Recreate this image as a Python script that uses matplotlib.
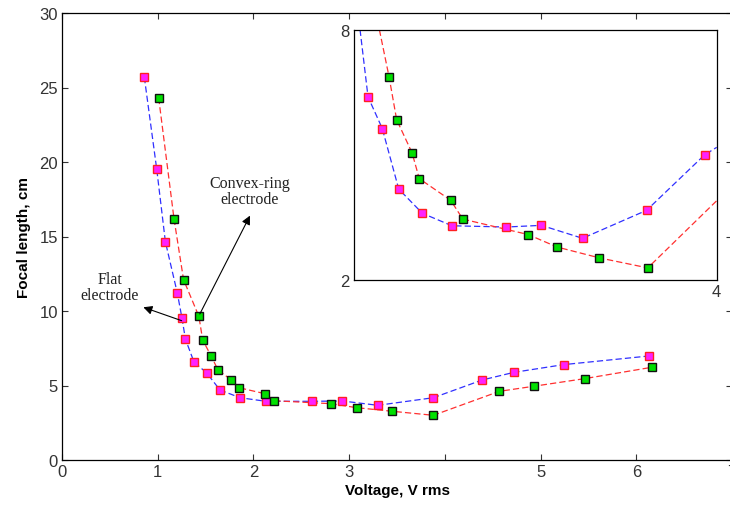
import matplotlib

matplotlib.use("Agg")
import matplotlib.pyplot as plt

# flat electrode: magenta squares, blue dashed line
flat_v = [0.86, 0.99, 1.08, 1.205, 1.254, 1.29, 1.38, 1.51, 1.65, 1.86,
          2.13, 2.61, 2.93, 3.30, 3.88, 4.39, 4.72, 5.24, 6.13]
flat_f = [25.7, 19.5, 14.65, 11.2, 9.5, 8.1, 6.56, 5.86, 4.7, 4.18,
          3.94, 3.94, 3.96, 3.67, 4.18, 5.37, 5.88, 6.40, 6.98]

# convex-ring electrode: green squares, red dashed line
ring_v = [1.01, 1.17, 1.27, 1.43, 1.47, 1.56, 1.63, 1.77, 1.85, 2.12,
          2.21, 2.81, 3.08, 3.45, 3.88, 4.57, 4.93, 5.46, 6.16]
ring_f = [24.3, 16.2, 12.1, 9.64, 8.05, 6.96, 6.04, 5.37, 4.85, 4.45,
          3.98, 3.78, 3.51, 3.27, 3.0, 4.61, 4.95, 5.46, 6.22]

# inset data (line runs past the first/last marker to the frame)
in_flat_v = [1.116, 1.234, 1.37, 1.565, 1.81, 2.26, 2.55, 2.89, 3.42, 3.90]
in_flat_f = [6.39, 5.63, 4.18, 3.60, 3.30, 3.27, 3.31, 3.00, 3.67, 5.00]
in_flat_ends_v = [1.05, 4.0]
in_flat_ends_f = [8.0, 5.18]
in_ring_v = [1.29, 1.353, 1.48, 1.54, 1.80, 1.90, 2.44, 2.68, 3.03, 3.43]
in_ring_f = [6.87, 5.84, 5.05, 4.43, 3.91, 3.46, 3.09, 2.79, 2.53, 2.29]
in_ring_ends_v = [1.21, 4.0]
in_ring_ends_f = [8.0, 3.90]

x_ticks = [0, 1, 2, 3, 4, 5, 6, 7]
x_labels = ["0", "1", "2", "3", "", "5", "6", "7"]
y_ticks = [0, 5, 10, 15, 20, 25, 30]

plt.rcParams["font.family"] = ["Liberation Sans", "DejaVu Sans"]

BLUE = "#3030ff"
RED = "#ff3030"
DASH = (5, 2.5)


def draw_series(ax, lv, lf, mv, mf, lc, fc, ec):
    ax.plot(lv, lf, color=lc, lw=0.9, dashes=DASH, zorder=2)
    ax.plot(mv, mf, ls="none", marker="s", ms=6.3, mfc=fc, mec=ec, mew=1.0, zorder=3)


fig = plt.figure(figsize=(7.3, 5.1), dpi=100)
ax = fig.add_axes([62 / 730, 49 / 510, 670 / 730, 447 / 510])

draw_series(ax, flat_v, flat_f, flat_v, flat_f, BLUE, "#ff20ff", "#ff2020")
draw_series(ax, ring_v, ring_f, ring_v, ring_f, RED, "#00e000", "#101010")

ax.set_xlim(0, 7)
ax.set_ylim(0, 30)
ax.set_xticks(x_ticks)
ax.set_xticklabels(x_labels)
ax.set_yticks(y_ticks)
ax.tick_params(direction="in", length=4, width=0.8, labelsize=12, colors="#333333",
               top=True, right=True, pad=3)
for s in ax.spines.values():
    s.set_linewidth(0.9)
ax.set_xlabel("Voltage, V rms", fontsize=11, fontweight="bold", labelpad=3)
ax.set_ylabel("Focal length, cm", fontsize=11, fontweight="bold", labelpad=6)

serif = ["Liberation Serif", "DejaVu Serif"]
ax.text(1.964, 18.05, "Convex-ring\nelectrode", ha="center", va="center",
        fontsize=11.5, family=serif, color="#222222", linespacing=1.05)
ax.text(0.50, 11.6, "Flat\nelectrode", ha="center", va="center",
        fontsize=11.5, family=serif, color="#222222", linespacing=1.05)
arrow = dict(arrowstyle="-|>", color="black", lw=0.8, mutation_scale=13, shrinkA=0, shrinkB=0)
ax.annotate("", xy=(1.964, 16.4), xytext=(1.44, 9.8), arrowprops=arrow, zorder=4)
ax.annotate("", xy=(0.85, 10.25), xytext=(1.25, 9.35), arrowprops=arrow, zorder=4)

# inset
ins = fig.add_axes([354 / 730, 229 / 510, 362.7 / 730, 250.3 / 510])
draw_series(ins, [in_flat_ends_v[0]] + in_flat_v + [in_flat_ends_v[1]],
            [in_flat_ends_f[0]] + in_flat_f + [in_flat_ends_f[1]],
            in_flat_v, in_flat_f, BLUE, "#ff20ff", "#ff2020")
draw_series(ins, [in_ring_ends_v[0]] + in_ring_v + [in_ring_ends_v[1]],
            [in_ring_ends_f[0]] + in_ring_f + [in_ring_ends_f[1]],
            in_ring_v, in_ring_f, RED, "#00e000", "#101010")
ins.set_xlim(1, 4)
ins.set_ylim(2, 8)
ins.set_xticks([4])
ins.set_yticks([2, 8])
ins.tick_params(length=0, labelsize=12, colors="#333333", pad=3)
for s in ins.spines.values():
    s.set_linewidth(0.9)

fig.savefig("out.png", dpi=100)
